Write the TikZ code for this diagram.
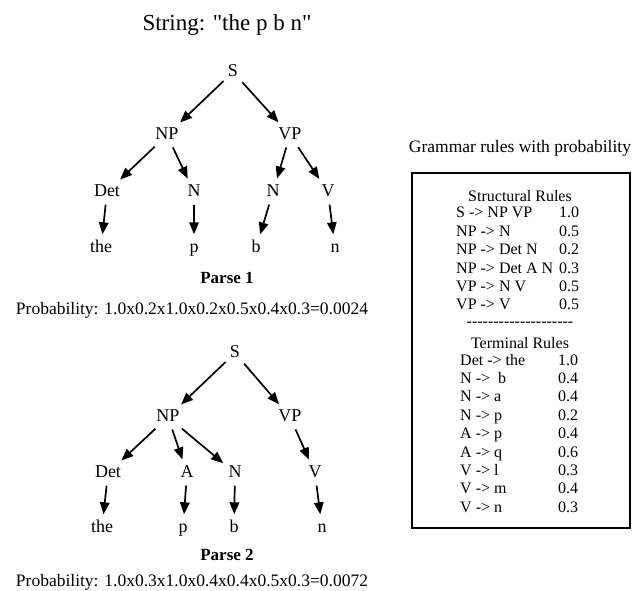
\documentclass[tikz,border=0pt]{standalone}
\usepackage{fontspec}
\setmainfont{Liberation Serif}[Ligatures=TeXOff]
\usetikzlibrary{arrows.meta}
\begin{document}
\begin{tikzpicture}[x=1pt,y=-1pt,
  lab/.style={font=\fontsize{18}{20}\selectfont, inner sep=2pt, text height=12pt, text depth=3pt},
  arr/.style={line width=1.7pt, -{Triangle[length=12pt,width=9.5pt]}, shorten <=3pt, shorten >=4pt},
  parse/.style={font=\fontsize{17}{20}\selectfont\bfseries, inner sep=1pt},
  prob/.style={font=\fontsize{17.5}{20}\selectfont, inner sep=1pt},
  rule/.style={font=\fontsize{16}{18}\selectfont, anchor=west, inner sep=0pt, text height=11pt, text depth=3pt},
  rbox/.style={draw, line width=2.4pt}]
\useasboundingbox (0,0) rectangle (635,591);

% title
\node[font=\fontsize{23}{26}\selectfont] (title) at (227,25) {String: "the p b n"};

% ---------- Parse 1 ----------
\node[lab] (s1) at (233,72) {S};
\node[lab] (np1) at (167,135) {NP};
\node[lab] (vp1) at (290,135) {VP};
\node[lab] (det1) at (107,192) {Det};
\node[lab] (n1a) at (194,192) {N};
\node[lab] (n1b) at (273,192) {N};
\node[lab] (v1) at (328,192) {V};
\node[lab] (the1) at (101,248) {the};
\node[lab] (p1) at (194,248) {p};
\node[lab] (b1) at (256,248) {b};
\node[lab] (nn1) at (335,248) {n};
\draw[arr] (s1) -- (np1);
\draw[arr] (s1) -- (vp1);
\draw[arr] (np1) -- (det1);
\draw[arr] (np1) -- (n1a);
\draw[arr] (vp1) -- (n1b);
\draw[arr] (vp1) -- (v1);
\draw[arr] (det1) -- (the1);
\draw[arr] (n1a) -- (p1);
\draw[arr] (n1b) -- (b1);
\draw[arr] (v1) -- (nn1);
\node[parse] (parse1) at (227,278) {Parse 1};
\node[prob] (prob1) at (192,310) {Probability: 1.0x0.2x1.0x0.2x0.5x0.4x0.3=0.0024};

% ---------- Parse 2 ----------
\node[lab] (s2) at (235,353) {S};
\node[lab] (np2) at (168,417) {NP};
\node[lab] (vp2) at (290,417) {VP};
\node[lab] (det2) at (108,473) {Det};
\node[lab] (a2) at (187,473) {A};
\node[lab] (n2) at (235,473) {N};
\node[lab] (v2) at (315,473) {V};
\node[lab] (the2) at (102,528) {the};
\node[lab] (p2) at (183,528) {p};
\node[lab] (b2) at (234,528) {b};
\node[lab] (nn2) at (322,528) {n};
\draw[arr] (s2) -- (np2);
\draw[arr] (s2) -- (vp2);
\draw[arr] (np2) -- (det2);
\draw[arr] (np2) -- (a2);
\draw[arr] (np2) -- (n2);
\draw[arr] (vp2) -- (v2);
\draw[arr] (det2) -- (the2);
\draw[arr] (a2) -- (p2);
\draw[arr] (n2) -- (b2);
\draw[arr] (v2) -- (nn2);
\node[parse] (parse2) at (227,555) {Parse 2};
\node[prob] (prob2) at (192,582) {Probability: 1.0x0.3x1.0x0.4x0.4x0.5x0.3=0.0072};

% ---------- Grammar ----------
\node[font=\fontsize{17.5}{20}\selectfont] (gtitle) at (520,148) {Grammar rules with probability};
\draw[rbox] (412,173) rectangle (630,528);
\node[font=\fontsize{16}{18}\selectfont, inner sep=0pt] (struct) at (520,196) {Structural Rules};
\foreach \k/\r/\p in {0/S -> NP VP/1.0, 1/NP -> N/0.5, 2/NP -> Det N/0.2, 3/NP -> Det A N/0.3, 4/VP -> N V/0.5, 5/VP -> V/0.5}{
  \node[rule] (rs\k) at (456,213.8+18.4*\k) {\r};
  \node[rule] (ps\k) at (559,213.8+18.4*\k) {\p};
}
\node[font=\fontsize{16}{18}\selectfont, inner sep=0pt] (dashes) at (520,324.5)
  {-\kern0pt-\kern0pt-\kern0pt-\kern0pt-\kern0pt-\kern0pt-\kern0pt-\kern0pt-\kern0pt-\kern0pt-\kern0pt-\kern0pt-\kern0pt-\kern0pt-\kern0pt-\kern0pt-\kern0pt-\kern0pt-\kern0pt-};
\node[font=\fontsize{16}{18}\selectfont, inner sep=0pt] (term) at (520,343) {Terminal Rules};
\foreach \k/\r/\p in {8/Det -> the/1.0, 9/N ->\ \ b/0.4, 10/N -> a/0.4, 11/N -> p/0.2, 12/A -> p/0.4, 13/A -> q/0.6, 14/V -> l/0.3, 15/V -> m/0.4, 16/V -> n/0.3}{
  \node[rule] (rt\k) at (460,213.8+18.4*\k) {\r};
  \node[rule] (pt\k) at (558,213.8+18.4*\k) {\p};
}
\end{tikzpicture}
\end{document}
